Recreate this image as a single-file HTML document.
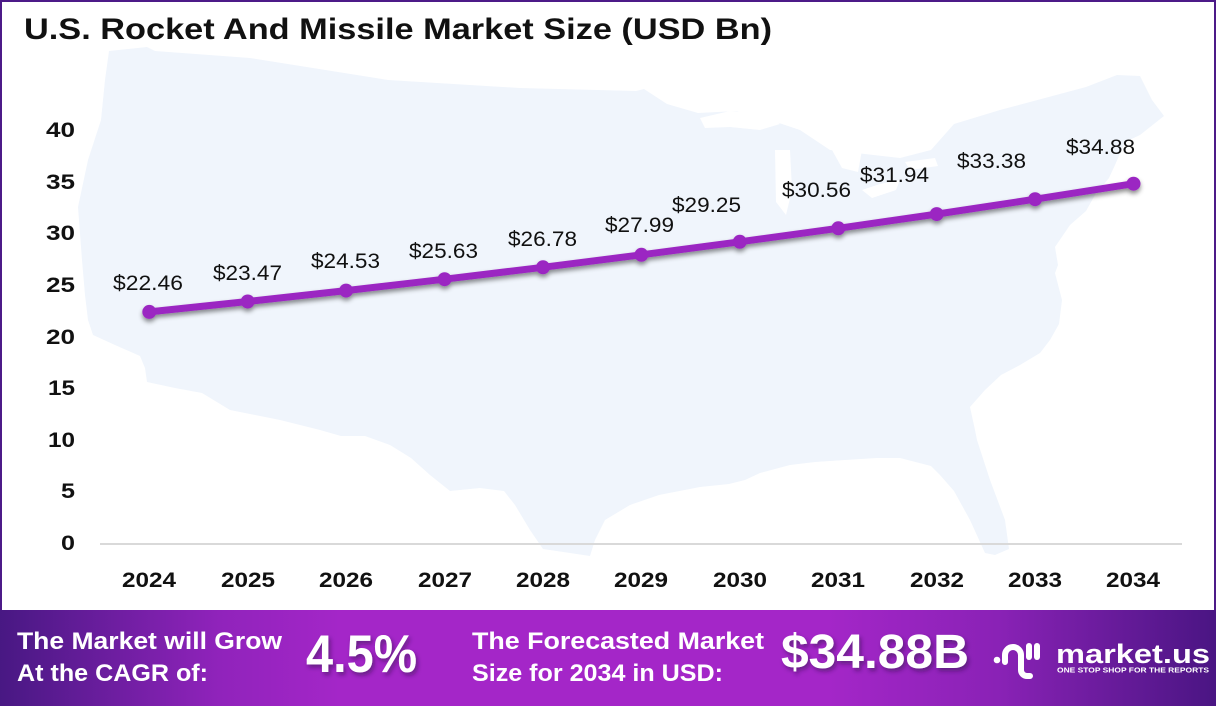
<!DOCTYPE html>
<html>
<head>
<meta charset="utf-8">
<style>
html,body{margin:0;padding:0;background:#fff;}
svg{display:block;}
text{font-family:"Liberation Sans",sans-serif;}
</style>
</head>
<body>
<svg width="1216" height="706" viewBox="0 0 1216 706" xmlns="http://www.w3.org/2000/svg">
<defs>
<linearGradient id="bg" x1="0" y1="0" x2="1" y2="0">
<stop offset="0" stop-color="#481883"/>
<stop offset="0.18" stop-color="#9023bb"/>
<stop offset="0.28" stop-color="#a426c8"/>
<stop offset="0.68" stop-color="#a426c8"/>
<stop offset="0.82" stop-color="#8a22b6"/>
<stop offset="1" stop-color="#4a1583"/>
</linearGradient>
<filter id="sh" x="-5%" y="-20%" width="110%" height="160%">
<feDropShadow dx="0" dy="3" stdDeviation="2.5" flood-color="#000" flood-opacity="0.45"/>
</filter>
<filter id="tsh" x="-10%" y="-20%" width="120%" height="160%">
<feDropShadow dx="2" dy="3" stdDeviation="2" flood-color="#2a0a40" flood-opacity="0.5"/>
</filter>
</defs>

<rect x="0" y="0" width="1216" height="706" fill="#fff"/>
<rect x="1" y="1" width="1214" height="620" fill="none" stroke="#4c1a88" stroke-width="2"/>

<!-- US map silhouette -->
<path fill="#f0f5fc" d="M109,51 L147,47 L155,51 L250,58 L388,80 L520,88 L636,91 L644,89 L667,104 L698,113 L737,111 L764,118 L800,130 L830,150 L900,158 L931,150 L954,124 L1000,110 L1086,87 L1117,75 L1140,76 L1152,100 L1164,116 L1140,135 L1125,142 L1115,165 L1109,178 L1095,195 L1086,211 L1070,225 L1055,247 L1058,265 L1055,273 L1062,300 L1059,324 L1050,340 L1040,353 L1020,365 L1001,375 L985,390 L970,407 L975,430 L977,440 L990,480 L1005,520 L1009,549 L995,555 L985,553 L970,520 L954,491 L940,475 L931,466 L900,458 L877,458 L845,460 L815,462 L790,465 L760,473 L745,480 L729,484 L700,487 L659,495 L630,505 L605,520 L595,540 L590,556 L570,553 L543,549 L530,530 L515,505 L504,491 L480,488 L450,491 L430,475 L411,458 L390,445 L365,436 L341,436 L320,430 L280,420 L230,410 L202,393 L175,388 L147,382 L145,368 L140,356 L115,345 L93,335 L88,320 L85,295 L82,260 L78,207 L88,160 L101,120 L105,80 Z"/>
<!-- great lakes -->
<path fill="#ffffff" d="M700,118 L730,111 L765,113 L780,124 L760,130 L730,127 L705,128 Z"/>
<path fill="#ffffff" d="M775,150 L790,150 L792,190 L786,215 L776,202 Z"/>
<path fill="#ffffff" d="M828,135 L850,133 L862,150 L858,172 L842,168 L832,150 Z"/>
<path fill="#ffffff" d="M862,190 L880,184 L900,180 L896,190 L872,198 Z"/>
<path fill="#ffffff" d="M905,162 L935,158 L938,166 L910,170 Z"/>

<!-- title -->
<text x="24" y="39" font-size="30" font-weight="bold" fill="#111" textLength="748" lengthAdjust="spacingAndGlyphs">U.S. Rocket And Missile Market Size (USD Bn)</text>

<!-- y axis labels -->
<g font-size="21" font-weight="bold" fill="#111" text-anchor="end">
<text x="75" y="137" textLength="29" lengthAdjust="spacingAndGlyphs">40</text>
<text x="75" y="189" textLength="29" lengthAdjust="spacingAndGlyphs">35</text>
<text x="75" y="240" textLength="29" lengthAdjust="spacingAndGlyphs">30</text>
<text x="75" y="292" textLength="29" lengthAdjust="spacingAndGlyphs">25</text>
<text x="75" y="344" textLength="29" lengthAdjust="spacingAndGlyphs">20</text>
<text x="75" y="395" textLength="27" lengthAdjust="spacingAndGlyphs">15</text>
<text x="75" y="447" textLength="27" lengthAdjust="spacingAndGlyphs">10</text>
<text x="75" y="498" textLength="14" lengthAdjust="spacingAndGlyphs">5</text>
<text x="75" y="550" textLength="14" lengthAdjust="spacingAndGlyphs">0</text>
</g>

<!-- axis line -->
<line x1="100" y1="544" x2="1182" y2="544" stroke="#d9d9d9" stroke-width="2"/>

<!-- x axis labels -->
<g font-size="21" font-weight="bold" fill="#111" text-anchor="middle">
<text x="149" y="587" textLength="54" lengthAdjust="spacingAndGlyphs">2024</text>
<text x="248" y="587" textLength="54" lengthAdjust="spacingAndGlyphs">2025</text>
<text x="346" y="587" textLength="54" lengthAdjust="spacingAndGlyphs">2026</text>
<text x="445" y="587" textLength="54" lengthAdjust="spacingAndGlyphs">2027</text>
<text x="543" y="587" textLength="54" lengthAdjust="spacingAndGlyphs">2028</text>
<text x="641" y="587" textLength="54" lengthAdjust="spacingAndGlyphs">2029</text>
<text x="740" y="587" textLength="54" lengthAdjust="spacingAndGlyphs">2030</text>
<text x="838" y="587" textLength="54" lengthAdjust="spacingAndGlyphs">2031</text>
<text x="937" y="587" textLength="54" lengthAdjust="spacingAndGlyphs">2032</text>
<text x="1035" y="587" textLength="54" lengthAdjust="spacingAndGlyphs">2033</text>
<text x="1133" y="587" textLength="54" lengthAdjust="spacingAndGlyphs">2034</text>
</g>

<!-- series -->
<g filter="url(#sh)">
<polyline fill="none" stroke="#9b28c2" stroke-width="7" stroke-linejoin="round" stroke-linecap="round"
points="149.3,311.9 247.7,301.5 346.1,290.6 444.6,279.2 543,267.3 641.4,254.8 739.8,241.8 838.3,228.3 936.7,214.1 1035.1,199.2 1133.5,183.7"/>
<g fill="#9b28c2">
<circle cx="149.3" cy="311.9" r="7"/>
<circle cx="247.7" cy="301.5" r="7"/>
<circle cx="346.1" cy="290.6" r="7"/>
<circle cx="444.6" cy="279.2" r="7"/>
<circle cx="543" cy="267.3" r="7"/>
<circle cx="641.4" cy="254.8" r="7"/>
<circle cx="739.8" cy="241.8" r="7"/>
<circle cx="838.3" cy="228.3" r="7"/>
<circle cx="936.7" cy="214.1" r="7"/>
<circle cx="1035.1" cy="199.2" r="7"/>
<circle cx="1133.5" cy="183.7" r="7"/>
</g>
</g>

<!-- value labels -->
<g font-size="21" fill="#111">
<text x="113" y="290" textLength="70" lengthAdjust="spacingAndGlyphs">$22.46</text>
<text x="213" y="280" textLength="69" lengthAdjust="spacingAndGlyphs">$23.47</text>
<text x="311" y="268" textLength="69" lengthAdjust="spacingAndGlyphs">$24.53</text>
<text x="409" y="258" textLength="69" lengthAdjust="spacingAndGlyphs">$25.63</text>
<text x="508" y="246" textLength="69" lengthAdjust="spacingAndGlyphs">$26.78</text>
<text x="605" y="232" textLength="69" lengthAdjust="spacingAndGlyphs">$27.99</text>
<text x="672" y="212" textLength="69" lengthAdjust="spacingAndGlyphs">$29.25</text>
<text x="782" y="197" textLength="69" lengthAdjust="spacingAndGlyphs">$30.56</text>
<text x="860" y="182" textLength="69" lengthAdjust="spacingAndGlyphs">$31.94</text>
<text x="957" y="168" textLength="69" lengthAdjust="spacingAndGlyphs">$33.38</text>
<text x="1066" y="154" textLength="69" lengthAdjust="spacingAndGlyphs">$34.88</text>
</g>

<!-- banner -->
<rect x="0" y="610" width="1216" height="96" fill="url(#bg)"/>
<g fill="#fff" font-weight="bold">
<text x="17" y="649" font-size="24" textLength="265" lengthAdjust="spacingAndGlyphs">The Market will Grow</text>
<text x="17" y="681" font-size="24" textLength="191" lengthAdjust="spacingAndGlyphs">At the CAGR of:</text>
<text x="306" y="672" font-size="53" textLength="111" lengthAdjust="spacingAndGlyphs" filter="url(#tsh)">4.5%</text>
<text x="472" y="649" font-size="24" textLength="292" lengthAdjust="spacingAndGlyphs">The Forecasted Market</text>
<text x="472" y="681" font-size="24" textLength="251" lengthAdjust="spacingAndGlyphs">Size for 2034 in USD:</text>
<text x="781" y="668" font-size="48" textLength="188" lengthAdjust="spacingAndGlyphs" filter="url(#tsh)">$34.88B</text>
<text x="1056" y="663" font-size="27" textLength="154" lengthAdjust="spacingAndGlyphs">market.us</text>
<text x="1057" y="672.5" font-size="7" textLength="152" lengthAdjust="spacingAndGlyphs">ONE STOP SHOP FOR THE REPORTS</text>
</g>
<!-- logo icon -->
<g fill="none" stroke="#fff" stroke-width="6" stroke-linecap="round">
<path d="M1005,662 L1005,655 A8,8 0 0 1 1021,655 L1021,670 A6,6 0 0 0 1027,676 L1030,676"/>
<line x1="1029" y1="646" x2="1029" y2="657"/>
<line x1="1037" y1="646" x2="1037" y2="657"/>
</g>
<circle cx="997" cy="660" r="3.3" fill="#fff"/>
</svg>
</body>
</html>
